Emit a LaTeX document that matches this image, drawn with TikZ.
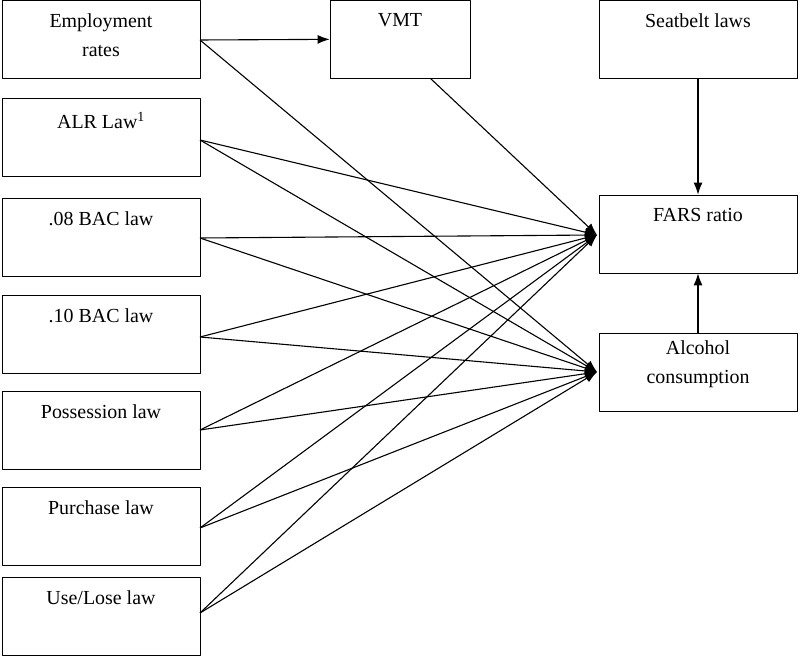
\documentclass[tikz,border=0pt]{standalone}
\usepackage{fontspec}
\setmainfont{Liberation Serif}
\usetikzlibrary{arrows.meta}
\begin{document}
\begin{tikzpicture}[>=latex,line join=bevel,
  box/.style={draw,thick,minimum width=198bp,minimum height=78bp,inner sep=0bp},
  txt/.style={anchor=north,align=center,inner sep=0bp,yshift=-14bp,font=\fontsize{20}{29}\selectfont},
  link/.style={black,-{Latex[length=12bp,width=9bp]},line width=1.1bp}]
\useasboundingbox (0bp,0bp) rectangle (800bp,659bp);
%%
\node (emp) at (101bp,620bp) [box,label={[txt]north:Employment\\rates}] {};
  \node (alr) at (101bp,522bp) [box,label={[txt]north:ALR Law\textsuperscript{1}}] {};
  \node (bac08) at (101bp,422bp) [box,label={[txt]north:.08 BAC law}] {};
  \node (bac10) at (101bp,325bp) [box,label={[txt]north:.10 BAC law}] {};
  \node (poss) at (101bp,229bp) [box,label={[txt]north:Possession law}] {};
  \node (purch) at (101bp,133bp) [box,label={[txt]north:Purchase law}] {};
  \node (use) at (101bp,43bp) [box,label={[txt]north:Use/Lose law}] {};
  \node (vmt) at (400bp,620bp) [box,minimum width=140bp,label={[txt]north:VMT}] {};
  \node (seat) at (698bp,620bp) [box,label={[txt]north:Seatbelt laws}] {};
  \node (fars) at (698bp,425bp) [box,label={[txt]north:FARS ratio}] {};
  \node (alc) at (698bp,287bp) [box,label={[txt,yshift=6bp]north:Alcohol\\consumption}] {};
  \coordinate (fin) at (597bp,424bp);
  \coordinate (ain) at (597bp,287bp);
  \coordinate (emp-out) at (200bp,619bp);
  \draw [link] (emp-out) -- (vmt);
  \draw [link] (emp-out) -- (ain);
  \draw [link] (vmt.south east) ++(-40bp,0bp) -- (fin);
  \draw [link] (seat) -- (fars);
  \draw [link] (alc) -- (fars);
  \foreach \src/\yy in {alr/519,bac08/421,bac10/322,poss/229,purch/131,use/46} {
    \coordinate (\src-out) at (200bp,\yy bp);
    \draw [link] (\src-out) -- (ain);
    \draw [link] (\src-out) -- (fin);
  }
%
\end{tikzpicture}
\end{document}
